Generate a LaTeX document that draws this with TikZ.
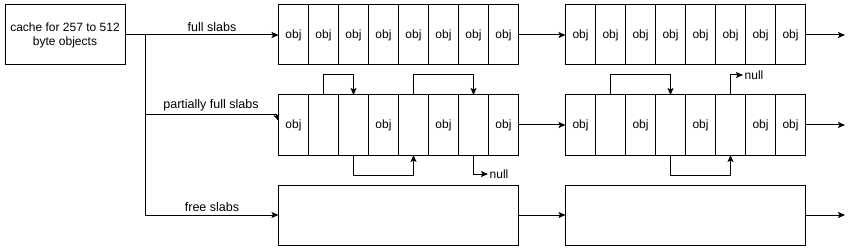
\documentclass[tikz,border=0pt]{standalone}
\usepackage{fontspec}
\setmainfont{Liberation Sans}
\usetikzlibrary{arrows.meta,positioning}

\tikzset{
  cell/.style={draw,line width=1pt,minimum width=30pt,minimum height=60pt,inner sep=0pt,outer sep=0pt,font=\fontsize{12}{14}\selectfont},
  slabbox/.style={draw,line width=1pt,minimum height=60pt,inner sep=0pt,outer sep=0pt},
  ptr/.style={->,line width=1pt},
  lbl/.style={font=\fontsize{12.5}{14}\selectfont,inner sep=3pt}
}

\begin{document}
\begin{tikzpicture}[x=1pt,y=-1pt,>={Stealth[length=7pt,width=6pt,inset=1.5pt]}]
\useasboundingbox (0,0) rectangle (859,251);
% cache
\node[draw,line width=1pt,minimum width=120pt,minimum height=60pt,align=center,inner sep=0pt,
  font=\fontsize{12}{14}\selectfont] (cache) at (65,35) {cache for 257 to 512\\byte objects};
\coordinate (br) at (145.5,35);
% slabs
\foreach \t [count=\i] in {obj,obj,obj,obj,obj,obj,obj,obj}{
  \node[cell] (f1-\i) at ({278.5+15+30*(\i-1)},35) {\t};
  \node[cell] (f2-\i) at ({565.5+15+30*(\i-1)},35) {\t};}
\foreach \t [count=\i] in {obj,,,obj,,obj,,obj}
  \node[cell] (p1-\i) at ({278.5+15+30*(\i-1)},125) {\t};
\foreach \t [count=\i] in {obj,,obj,,obj,,obj,obj}
  \node[cell] (p2-\i) at ({565.5+15+30*(\i-1)},125) {\t};
\node[slabbox,minimum width=240pt] (e1) at (398.5,215) {};
\node[slabbox,minimum width=240pt] (e2) at (685.5,215) {};
\coordinate (fend) at (845,35); \coordinate (pend) at (845,125); \coordinate (eend) at (845,215);
\coordinate (pk) at (276.5,115);
% cache links
\draw[line width=1pt] (cache.east) -- (br);
\draw[ptr] (br) -- node[lbl,above]{full slabs} (f1-1.west);
\draw[line width=1pt] (br) |- node[lbl,above,pos=0.75]{partially full slabs} (pk);
\draw[ptr] (pk) -- (278.5,121);
\draw[ptr] (br) |- node[lbl,above,pos=0.75]{free slabs} (e1.west);
% next slab
\draw[ptr] (f1-8.east) -- (f2-1.west); \draw[ptr] (f2-8.east) -- (fend);
\draw[ptr] (p1-8.east) -- (p2-1.west); \draw[ptr] (p2-8.east) -- (pend);
\draw[ptr] (e1.east) -- (e2.west); \draw[ptr] (e2.east) -- (eend);
% free list
\node[anchor=west,inner sep=1.5pt,font=\fontsize{12}{14}\selectfont] (null1) at (488,174) {null};
\node[anchor=west,inner sep=1.5pt,font=\fontsize{12}{14}\selectfont] (null2) at (743,75) {null};
\draw[ptr] (p1-2.north) -- ++(0,-20) -| (p1-3.north);
\draw[ptr] (p1-5.north) -- ++(0,-20) -| (p1-7.north);
\draw[ptr] (p1-3.south) -- ++(0,20) -| (p1-5.south);
\draw[ptr] (p1-7.south) |- (null1.west);
\draw[ptr] (p2-2.north) -- ++(0,-20) -| (p2-4.north);
\draw[ptr] (p2-4.south) -- ++(0,20) -| (p2-6.south);
\draw[ptr] (p2-6.north) |- (null2.west);
\end{tikzpicture}
\end{document}
